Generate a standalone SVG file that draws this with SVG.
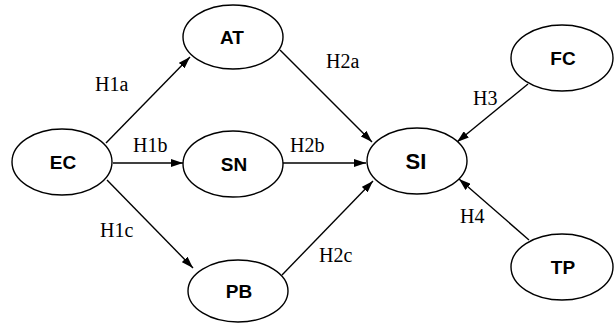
<svg xmlns="http://www.w3.org/2000/svg" width="616" height="324" viewBox="0 0 616 324">
<defs>
<marker id="ah" viewBox="0 0 12 8" refX="12" refY="4" markerWidth="12" markerHeight="8" markerUnits="userSpaceOnUse" orient="auto">
<path d="M0,0 L12,4 L0,8 Z" fill="#000"/>
</marker>
<style>
.n ellipse{fill:#fff;stroke:#000;stroke-width:1.4}
.n text{font-family:"Liberation Sans",Arial,sans-serif;font-weight:bold;font-size:19px;text-anchor:middle;fill:#000}
.c line{stroke:#000;stroke-width:1.4;marker-end:url(#ah)}
.l{font-family:"Liberation Serif","Times New Roman",serif;font-size:20px;fill:#000}
</style>
</defs>
<rect width="616" height="324" fill="#fff"/>
<g class="c" id="connectors">
<line x1="106" y1="143" x2="190" y2="57"/>
<line x1="113" y1="163" x2="183" y2="163"/>
<line x1="107" y1="180" x2="193" y2="268"/>
<line x1="280" y1="50" x2="372" y2="142"/>
<line x1="283" y1="163" x2="366" y2="163"/>
<line x1="282" y1="275" x2="373" y2="181"/>
<line x1="528" y1="84" x2="457" y2="142"/>
<line x1="529" y1="240" x2="459" y2="179"/>
</g>
<g id="labels">
<text class="l" x="95" y="91">H1a</text>
<text class="l" x="133" y="152">H1b</text>
<text class="l" x="100" y="237">H1c</text>
<text class="l" x="326" y="68">H2a</text>
<text class="l" x="290" y="152">H2b</text>
<text class="l" x="319" y="262">H2c</text>
<text class="l" x="473" y="105">H3</text>
<text class="l" x="460" y="223">H4</text>
</g>
<g class="n" id="EC"><ellipse cx="62" cy="162" rx="50" ry="33"/><text x="63" y="169">EC</text></g>
<g class="n" id="AT"><ellipse cx="233" cy="37" rx="50" ry="32"/><text x="232" y="44">AT</text></g>
<g class="n" id="SN"><ellipse cx="233" cy="164" rx="50" ry="33"/><text x="234" y="171">SN</text></g>
<g class="n" id="PB"><ellipse cx="238" cy="291" rx="50" ry="31"/><text x="239" y="298">PB</text></g>
<g class="n" id="SI"><ellipse cx="417" cy="161" rx="50" ry="33"/><text x="416" y="169" style="font-size:22px">SI</text></g>
<g class="n" id="FC"><ellipse cx="562" cy="58" rx="51" ry="33"/><text x="563" y="65">FC</text></g>
<g class="n" id="TP"><ellipse cx="562" cy="267" rx="51" ry="33"/><text x="563" y="274">TP</text></g>
</svg>
